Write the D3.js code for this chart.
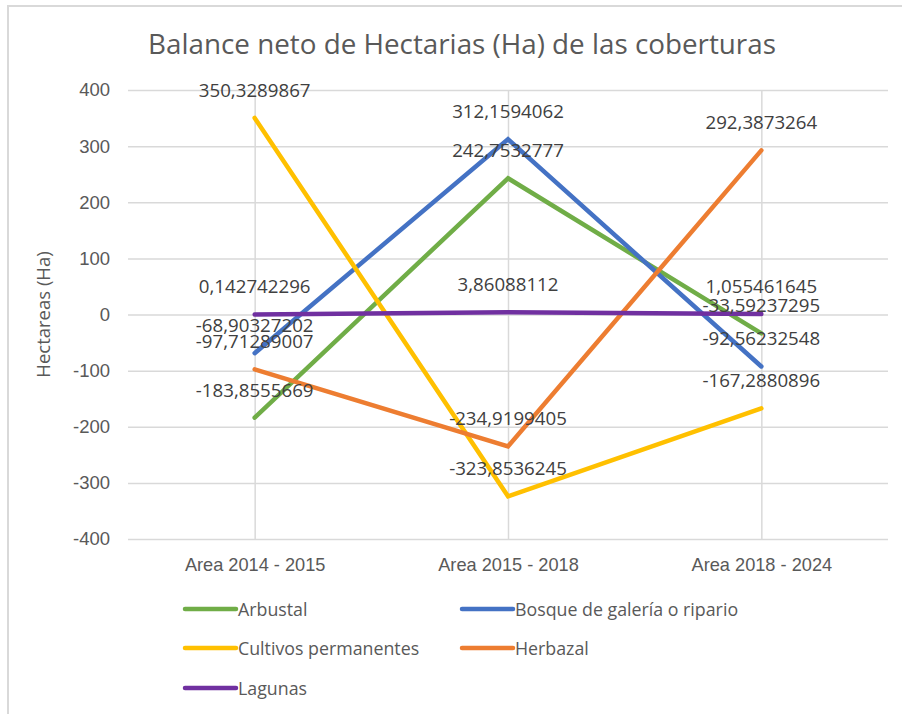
<!DOCTYPE html>
<html>
<head>
<meta charset="utf-8">
<script src="https://cdn.jsdelivr.net/npm/d3@7"></script>
<style>
  body { margin: 0; background: #fff; }
  svg { font-family: "Open Sans", "Liberation Sans", sans-serif; }
</style>
</head>
<body>
<div id="chart"></div>
<script>
// data
var categories = ["Area 2014 - 2015", "Area 2015 - 2018", "Area 2018 - 2024"];
var arbustal   = [-183.8555669, 242.7532777, -33.59237295];
var bosque     = [-68.90327202, 312.1594062, -92.56232548];
var cultivos   = [350.3289867, -323.8536245, -167.2880896];
var herbazal   = [-97.71289007, -234.9199405, 292.3873264];
var lagunas    = [0.142742296, 3.86088112, 1.055461645];
var yTicks     = [-400, -300, -200, -100, 0, 100, 200, 300, 400];

var series = [
  { name: "Arbustal", values: arbustal, color: "#70ad47" },
  { name: "Bosque de galería o ripario", values: bosque, color: "#4472c4" },
  { name: "Cultivos permanentes", values: cultivos, color: "#ffc000" },
  { name: "Herbazal", values: herbazal, color: "#ed7d31" },
  { name: "Lagunas", values: lagunas, color: "#7030a0" }
];

var width = 902, height = 714;
var margin = { top: 90, right: 14, bottom: 175, left: 128 };

var svg = d3.select("#chart").append("svg")
  .attr("width", width).attr("height", height);

// chart border
svg.append("rect")
  .attr("x", 8).attr("y", 6)
  .attr("width", width).attr("height", height)
  .attr("fill", "none").attr("stroke", "#d9d9d9").attr("stroke-width", 2);

svg.append("text")
  .attr("x", 462).attr("y", 54)
  .attr("text-anchor", "middle")
  .attr("font-size", 27.8).attr("fill", "#595959")
  .text("Balance neto de Hectarias (Ha) de las coberturas");

var x = d3.scalePoint()
  .domain(categories)
  .range([margin.left, width - margin.right])
  .padding(0.5);

var y = d3.scaleLinear()
  .domain([-400, 400])
  .range([height - margin.bottom, margin.top]);

// horizontal gridlines
svg.append("g")
  .attr("transform", "translate(" + margin.left + ",0)")
  .call(d3.axisLeft(y).tickValues(yTicks).tickFormat(String)
    .tickSize(-(width - margin.left - margin.right)).tickPadding(18))
  .call(function(g) {
    g.select(".domain").remove();
    g.selectAll(".tick line").attr("stroke", "#d9d9d9").attr("stroke-width", 1.5);
    g.selectAll(".tick text").attr("font-size", 18.5).attr("fill", "#595959");
  });

// vertical gridlines at categories
svg.append("g")
  .attr("transform", "translate(0," + (height - margin.bottom) + ")")
  .call(d3.axisBottom(x).tickSize(-(height - margin.top - margin.bottom)).tickPadding(19))
  .call(function(g) {
    g.select(".domain").remove();
    g.selectAll(".tick line").attr("stroke", "#d9d9d9").attr("stroke-width", 1.5);
    g.selectAll(".tick text").attr("font-size", 18.2).attr("fill", "#595959");
  });

svg.append("text")
  .attr("transform", "translate(50," + y(0) + ") rotate(-90)")
  .attr("text-anchor", "middle")
  .attr("font-size", 18.5).attr("fill", "#595959")
  .text("Hectareas (Ha)");

var line = d3.line()
  .x(function(d, i) { return x(categories[i]); })
  .y(function(d) { return y(d); });

svg.selectAll(".series")
  .data(series)
  .enter().append("path")
  .attr("d", function(s) { return line(s.values); })
  .attr("fill", "none")
  .attr("stroke", function(s) { return s.color; })
  .attr("stroke-width", 4.5)
  .attr("stroke-linejoin", "miter")
  .attr("stroke-linecap", "round");

// data labels
var fmt = function(v) { return String(v).replace(".", ","); };
series.forEach(function(s) {
  svg.append("g").selectAll("text")
    .data(s.values)
    .enter().append("text")
    .attr("x", function(d, i) { return x(categories[i]); })
    .attr("y", function(d) { return y(d) - 21; })
    .attr("text-anchor", "middle")
    .attr("font-size", 18.7).attr("fill", "#404040")
    .text(fmt);
});

// legend
var legend = svg.append("g");
var cols = [185, 462], rows = [609, 648, 688];
series.forEach(function(s, i) {
  var lx = cols[i % 2], ly = rows[Math.floor(i / 2)];
  legend.append("line")
    .attr("x1", lx).attr("x2", lx + 51)
    .attr("y1", ly).attr("y2", ly)
    .attr("stroke", s.color).attr("stroke-width", 4.5).attr("stroke-linecap", "round");
  legend.append("text")
    .attr("x", lx + 53).attr("y", ly + 6.5)
    .attr("font-size", 17.8).attr("fill", "#595959")
    .text(s.name);
});
</script>
</body>
</html>
